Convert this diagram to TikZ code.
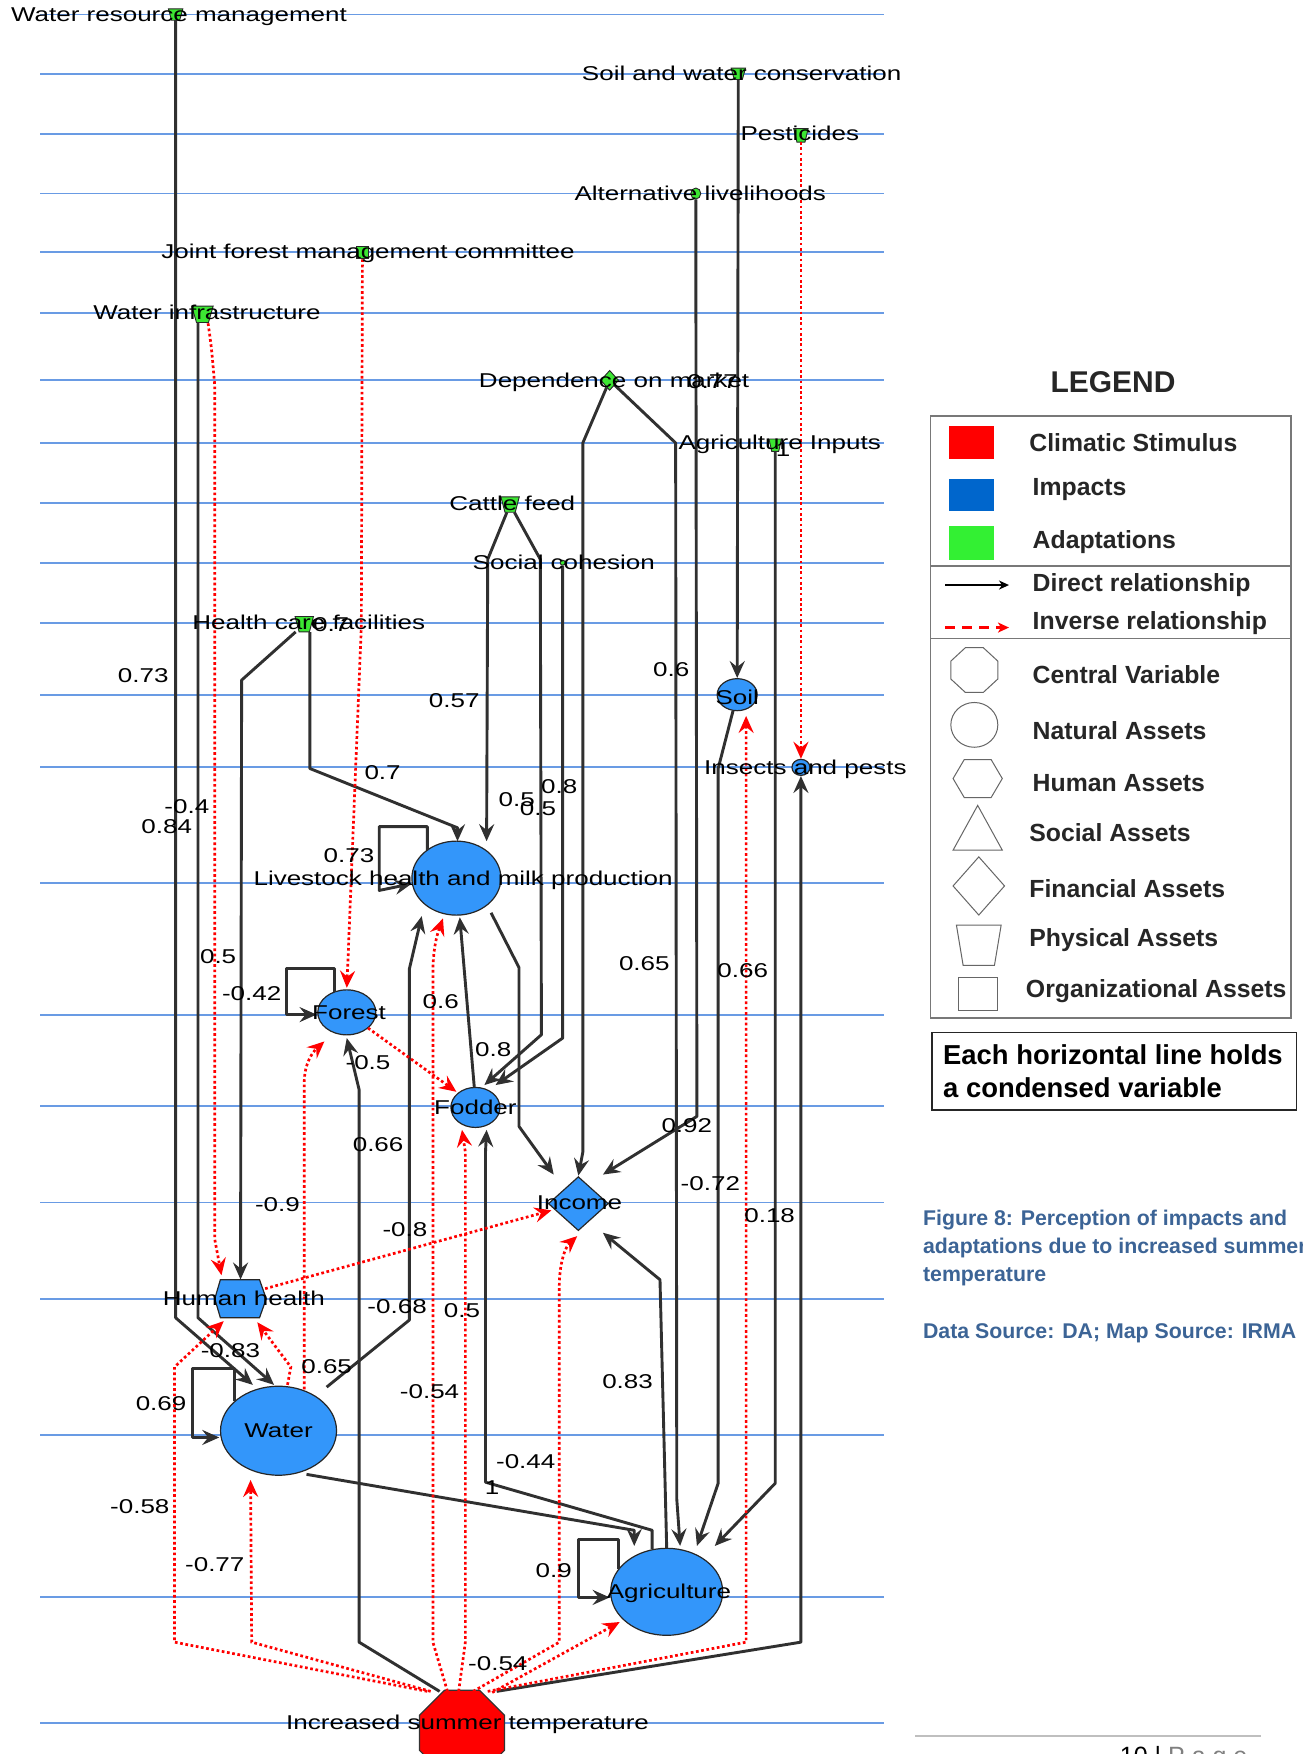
\documentclass[tikz,border=0pt]{standalone}
\usepackage{fontspec}
\setmainfont{Liberation Sans}
\newfontfamily\diagfont[FakeStretch=1.3]{Liberation Sans}
\usetikzlibrary{shapes.geometric,arrows.meta,calc}
\definecolor{hlblue}{RGB}{105,155,228}
\definecolor{dgray}{RGB}{48,48,48}
\definecolor{impblue}{RGB}{51,150,250}
\definecolor{adgreen}{RGB}{60,230,50}
\definecolor{legblue}{RGB}{0,102,204}
\definecolor{leggreen}{RGB}{51,240,51}
\definecolor{capblue}{RGB}{60,100,150}
\definecolor{legframe}{RGB}{120,120,120}
\newcommand\drawtrap[1]{\draw[adapt] (#1.north west) -- (#1.north east) -- ($(#1.south east)!0.22!(#1.south west)$) -- ($(#1.south west)!0.22!(#1.south east)$) -- cycle;}
\begin{document}
\begin{tikzpicture}[x=1.1186pt,y=-1.1186pt,
  hline/.style={draw=hlblue,line width=1.9pt},
  dir/.style={draw=dgray,line width=2.9pt,line join=round,-{Stealth[length=17pt,width=15pt,inset=6pt]}},
  inv/.style={draw=red,line width=2.7pt,dash pattern=on 2.7pt off 2.6pt,-{Stealth[length=17pt,width=15pt,inset=6pt]}},
  impact/.style={ellipse,draw=black!85,line width=1.2pt,fill=impblue,inner sep=0pt},
  adapt/.style={draw=black!85,line width=0.9pt,fill=adgreen,inner sep=0pt},
  pbox/.style={rectangle,inner sep=0pt},
  dtxt/.style={font=\diagfont\fontsize{20}{24}\selectfont,inner sep=0pt,anchor=base},
  num/.style={font=\diagfont\fontsize{20}{24}\selectfont,inner sep=0pt},
  legshape/.style={draw=black!60,line width=1pt},
  legtxt/.style={font=\bfseries\fontsize{24.8}{28}\selectfont,anchor=west,inner sep=0pt,text=black!85},
  captxt/.style={font=\bfseries\fontsize{21.3}{26}\selectfont,anchor=west,inner sep=0pt,text=capblue}
]
\useasboundingbox (0,0) rectangle (1164,1568);
\fill[white] (0,0) rectangle (1164,1568);

% horizontal lines
\foreach \yy in {13,66,120,173,225,280,340,396,450,503,557,621,686,789,907,989,1075,1161,1283,1428,1540}
  \draw[hline] (36,\yy) -- (790,\yy);

% adaptation nodes
\node[pbox,minimum width=14pt,minimum height=11pt] (wrm) at (157,13) {};
\node[pbox,minimum width=14pt,minimum height=11pt] (swc) at (660,66) {};
\node[pbox,minimum width=14pt,minimum height=13pt] (pest) at (716,121) {};
\node[adapt,ellipse,minimum width=10pt,minimum height=11pt] (alt) at (622,173) {};
\node[adapt,rectangle,minimum width=12pt,minimum height=12pt] (jfm) at (324,226) {};
\node[pbox,minimum width=21pt,minimum height=16pt] (winf) at (181,281) {};
\node[adapt,diamond,minimum width=18pt,minimum height=20pt] (dom) at (545,340) {};
\node[pbox,minimum width=12pt,minimum height=12pt] (ainp) at (693,398) {};
\node[pbox,minimum width=18pt,minimum height=15pt] (cf) at (456,451) {};
\node[adapt,circle,minimum size=5pt] (sc) at (503,503) {};
\node[pbox,minimum width=18pt,minimum height=15pt] (hcf) at (272,558) {};
\drawtrap{wrm}\drawtrap{swc}\drawtrap{pest}\drawtrap{winf}\drawtrap{ainp}\drawtrap{cf}\drawtrap{hcf}

% impact nodes
\node[impact,minimum width=40pt,minimum height=32pt] (soil) at (659,621) {};
\node[impact,minimum width=18pt,minimum height=16pt] (ins) at (716,686) {};
\node[impact,minimum width=89pt,minimum height=74pt] (lhm) at (408,785) {};
\node[impact,minimum width=58pt,minimum height=45pt] (forest) at (310,905) {};
\node[impact,minimum width=49pt,minimum height=40pt] (fodder) at (425,990) {};
\node[diamond,draw=black!85,line width=1.2pt,fill=impblue,inner sep=0pt,minimum width=60pt,minimum height=54pt] (income) at (517,1076) {};
\node[pbox,minimum width=49pt,minimum height=38pt] (hh) at (215,1161) {};
\draw[fill=impblue,draw=black!85,line width=1.2pt] ($(hh)+(-18,-17)$) -- ($(hh)+(17,-17)$) -- ($(hh)+(23,0)$) -- ($(hh)+(17,17)$) -- ($(hh)+(-18,17)$) -- ($(hh)+(-23,0)$) -- cycle;
\node[impact,minimum width=116pt,minimum height=89pt] (water) at (249,1279) {};
\node[impact,minimum width=112pt,minimum height=87pt] (agri) at (596,1423) {};
\node[regular polygon,regular polygon sides=8,minimum size=92pt,inner sep=0pt,fill=red,draw=black!80,line width=1.2pt] (ist) at (413,1549) {};

% direct relationships
\draw[dir] (wrm) -- (157,1178) -- ($(water)+(-23,-41)$);
\draw[dir] ($(winf)+(-4,7)$) -- (177,1178) -- ($(water)+(-4,-41)$);
\draw[dir] (hcf) -- (216,608) -- (hh);
\draw[dir] ($(hcf)+(5,7)$) -- (277,687) -- (409,740) -- ($(lhm)+(1,-33)$);
\draw[dir] (swc) -- (soil);
\draw[dir] (alt) -- (623,998) -- ($(income)+(22,-26)$);
\draw[dir] (dom) -- (521,396) -- (521,1030) -- ($(income)+(0,-25)$);
\draw[dir] (dom) -- (604,396) -- (605,1340) -- ($(agri)+(12,-41)$);
\draw[dir] (soil) -- (642,687) -- (642,1326) -- ($(agri)+(27,-41)$);
\draw[dir] (ainp) -- (693,1326) -- ($(agri)+(43,-41)$);
\draw[dir] ($(agri)+(0,-39)$) -- (590,1144) -- ($(income)+(22,26)$);
\draw[dir] ($(ist)+(31,-37)$) -- (716,1468) -- (ins);
\draw[dir] ($(ist)+(-20,-37)$) -- (321,1468) -- (321,974) -- ($(forest)+(0,23)$);
\draw[dir] ($(water)+(43,-39)$) -- (366,1180) -- (366,866) -- ($(lhm)+(-31,34)$);
\draw[dir] ($(lhm)+(31,31)$) -- (464,865) -- (464,1007) -- ($(income)+(-22,-26)$);
\draw[dir] ($(fodder)+(-1,-18)$) -- ($(lhm)+(3,35)$);
\draw[dir] (cf) -- (436,500) -- ($(lhm)+(27,-33)$);
\draw[dir] (cf) -- (483,500) -- (484,925) -- ($(fodder)+(8,-20)$);
\draw[dir] (sc) -- (503,928) -- ($(fodder)+(18,-20)$);
\draw[dir] ($(agri)+(-13,-38)$) -- (583,1368) -- (434,1325) -- (434,1030) -- ($(fodder)+(10,20)$);
\draw[dir] ($(water)+(25,39)$) -- (567,1368) -- ($(agri)+(-29,-41)$);
% self loops
\draw[dir] ($(lhm)+(-26,-25)$) -- (382,739) -- (339,739) -- (339,796) -- ($(lhm)+(-40,5)$);
\draw[dir] ($(forest)+(-11,-18)$) -- (299,866) -- (256,866) -- (256,907) -- ($(forest)+(-27,2)$);
\draw[dir] ($(water)+(-39,-27)$) -- (210,1223) -- (172,1223) -- (172,1285) -- ($(water)+(-53,6)$);
\draw[dir] ($(agri)+(-43,-20)$) -- (553,1376) -- (517,1376) -- (517,1428) -- ($(agri)+(-51,5)$);

% inverse relationships
\draw[inv] ($(winf)+(5,8)$) .. controls (189,310) .. (192,345) -- (192,1108) -- ($(hh)+(-17,-21)$);
\draw[inv] (jfm) -- (323,560) -- (311,860) -- ($(forest)+(0,-22)$);
\draw[inv] (pest) -- (ins);
\draw[inv] ($(ist)+(-31,-37)$) -- (156,1468) -- (156,1222) -- ($(hh)+(-15,20)$);
\draw[inv] ($(ist)+(-28,-37)$) -- (225,1468) -- ($(water)+(-25,44)$);
\draw[inv] ($(water)+(23,-37)$) -- (272,968) .. controls (272,950) and (280,940) .. ($(forest)+(-20,26)$);
\draw[inv] ($(water)+(8,-41)$) -- (260,1222) -- ($(hh)+(15,21)$);
\draw[inv] ($(hh)+(22,-9)$) -- ($(income)+(-24,6)$);
\draw[inv] ($(ist)+(-13,-37)$) -- (387,1468) -- (387,870) .. controls (387,845) and (392,832) .. ($(lhm)+(-12,36)$);
\draw[inv] ($(ist)+(-3,-37)$) -- (416,1468) -- (416,1030) -- ($(fodder)+(-12,20)$);
\draw[inv] ($(ist)+(10,-37)$) -- (500,1468) -- (500,1150) .. controls (500,1130) and (505,1115) .. ($(income)+(-1,29)$);
\draw[inv] ($(ist)+(27,-36)$) -- ($(agri)+(-42,27)$);
\draw[inv] ($(ist)+(23,-37)$) -- (667,1468) -- ($(soil)+(8,19)$);
\draw[inv] ($(forest)+(19,14)$) -- ($(fodder)+(-17,-14)$);

% variable names
\node[dtxt] (t1) at (160,19) {Water resource management};
\node[dtxt] (t2) at (663,72) {Soil and water conservation};
\node[dtxt] (t3) at (715,126) {Pesticides};
\node[dtxt] (t4) at (626,179) {Alternative livelihoods};
\node[dtxt] (t5) at (329,231) {Joint forest management committee};
\node[dtxt] (t6) at (185,286) {Water infrastructure};
\node[dtxt] (t7) at (549,346) {Dependence on market};
\node[dtxt] (t8) at (697,402) {Agriculture Inputs};
\node[dtxt] (t9) at (458,456) {Cattle feed};
\node[dtxt] (t10) at (504,509) {Social cohesion};
\node[dtxt] (t11) at (276,563) {Health care facilities};
\node[dtxt] (t12) at (659,630) {Soil};
\node[dtxt] (t13) at (720,692) {Insects and pests};
\node[dtxt] (t14) at (414,792) {Livestock health and milk production};
\node[dtxt] (t15) at (312,911) {Forest};
\node[dtxt] (t16) at (425,996) {Fodder};
\node[dtxt] (t17) at (518,1081) {Income};
\node[dtxt] (t18) at (218,1167) {Human health};
\node[dtxt] (t19) at (249,1285) {Water};
\node[dtxt] (t20) at (598,1429) {Agriculture};
\node[dtxt] (t21) at (418,1546) {Increased summer temperature};

% weights
\node[num] (w1) at (637,341) {0.77};
\node[num] (w2) at (700,402) {1};
\node[num] (w3) at (296,558) {0.7};
\node[num] (w4) at (128,604) {0.73};
\node[num] (w5) at (600,599) {0.6};
\node[num] (w6) at (406,626) {0.57};
\node[num] (w7) at (342,691) {0.7};
\node[num] (w8) at (167,721) {-0.4};
\node[num] (w9) at (149,739) {0.84};
\node[num] (w10) at (462,715) {0.5};
\node[num] (w11) at (481,723) {0.5};
\node[num] (w12) at (500,703) {0.8};
\node[num] (w13) at (312,765) {0.73};
\node[num] (w14) at (195,855) {0.5};
\node[num] (w15) at (576,861) {0.65};
\node[num] (w16) at (664,868) {0.66};
\node[num] (w17) at (225,888) {-0.42};
\node[num] (w18) at (394,895) {0.6};
\node[num] (w19) at (441,938) {0.8};
\node[num] (w20) at (329,950) {-0.5};
\node[num] (w21) at (614,1006) {0.92};
\node[num] (w22) at (338,1023) {0.66};
\node[num] (w23) at (635,1058) {-0.72};
\node[num] (w24) at (248,1077) {-0.9};
\node[num] (w25) at (688,1087) {0.18};
\node[num] (w26) at (362,1099) {-0.8};
\node[num] (w27) at (355,1168) {-0.68};
\node[num] (w28) at (413,1172) {0.5};
\node[num] (w29) at (206,1207) {-0.83};
\node[num] (w30) at (292,1222) {0.65};
\node[num] (w31) at (561,1235) {0.83};
\node[num] (w32) at (384,1244) {-0.54};
\node[num] (w33) at (144,1255) {0.69};
\node[num] (w34) at (470,1307) {-0.44};
\node[num] (w35) at (440,1330) {1};
\node[num] (w36) at (125,1347) {-0.58};
\node[num] (w37) at (192,1399) {-0.77};
\node[num] (w38) at (495,1404) {0.9};
\node[num] (w39) at (445,1487) {-0.54};

% legend
\node[font=\bfseries\fontsize{30}{34}\selectfont,inner sep=0pt,text=black!85] (legtitle) at (995,342) {LEGEND};
\draw[draw=legframe,line width=1.5pt] (832,372) rectangle (1154,910);
\draw[draw=legframe,line width=1.3pt] (832,506) -- (1154,506);
\draw[draw=legframe,line width=1.3pt] (832,571) -- (1154,571);
\fill[red] (848,381) rectangle (889,410);
\fill[legblue] (848,428) rectangle (889,457);
\fill[leggreen] (848,470) rectangle (889,501);
\node[legtxt] (l1) at (920,396) {Climatic Stimulus};
\node[legtxt] (l2) at (923,438) {Impacts};
\node[legtxt] (l3) at (923,485) {Adaptations};
\coordinate (la1) at (845,523);
\coordinate (la2) at (902,523);
\draw[black,line width=1.6pt,-{Stealth[length=10pt,width=9pt,inset=3pt]}] (la1) -- (la2);
\coordinate (lb1) at (845,561);
\coordinate (lb2) at (902,561);
\draw[red,line width=2.4pt,dash pattern=on 10pt off 7pt,-{Stealth[length=11pt,width=10pt,inset=3pt]}] (lb1) -- (lb2);
\node[legtxt] (l4) at (923,523) {Direct relationship};
\node[legtxt] (l5) at (923,557) {Inverse relationship};
\draw[legshape] (863,579) -- (879,579) -- (892,591) -- (892,607) -- (879,619) -- (863,619) -- (850,607) -- (850,591) -- cycle;
\draw[legshape] (871,648) ellipse [x radius=23.5pt,y radius=22.4pt];
\draw[legshape] (852,696) -- (862,679) -- (886,679) -- (896,696) -- (886,713) -- (862,713) -- cycle;
\draw[legshape] (852,760) -- (874,720) -- (896,760) -- cycle;
\draw[legshape] (875,766) -- (898,792) -- (875,818) -- (852,792) -- cycle;
\draw[legshape] (855,827) -- (895,827) -- (889,863) -- (861,863) -- cycle;
\draw[legshape] (857,874) rectangle (892,903);
\node[legtxt] (l6) at (923,603) {Central Variable};
\node[legtxt] (l7) at (923,653) {Natural Assets};
\node[legtxt] (l8) at (923,700) {Human Assets};
\node[legtxt] (l9) at (920,744) {Social Assets};
\node[legtxt] (l10) at (920,794) {Financial Assets};
\node[legtxt] (l11) at (920,840) {Physical Assets};
\node[legtxt] (l12) at (917,886) {Organizational Assets};
\draw[draw=black!85,line width=1.8pt] (833,923) rectangle (1159,992);
\node[font=\bfseries\fontsize{27.4}{31}\selectfont,anchor=west,inner sep=0pt] (n1) at (843,943) {Each horizontal line holds};
\node[font=\bfseries\fontsize{27.4}{31}\selectfont,anchor=west,inner sep=0pt] (n2) at (843,972) {a condensed variable};

% caption
\node[captxt] (c1) at (825,1091) {Figure 8: Perception of impacts and};
\node[captxt] (c2) at (825,1116) {adaptations due to increased summer};
\node[captxt] (c3) at (825,1141) {temperature};
\node[captxt] (c4) at (825,1192) {Data Source: DA; Map Source: IRMA};

% footer
\draw[draw=black!25,line width=1.5pt] (818,1552) -- (1127,1552);
\node[anchor=north west,inner sep=0pt,font=\fontsize{25}{28}\selectfont] (pg) at (1001,1561) {10 | \textcolor{black!50}{P a g e}};
\end{tikzpicture}
\end{document}
